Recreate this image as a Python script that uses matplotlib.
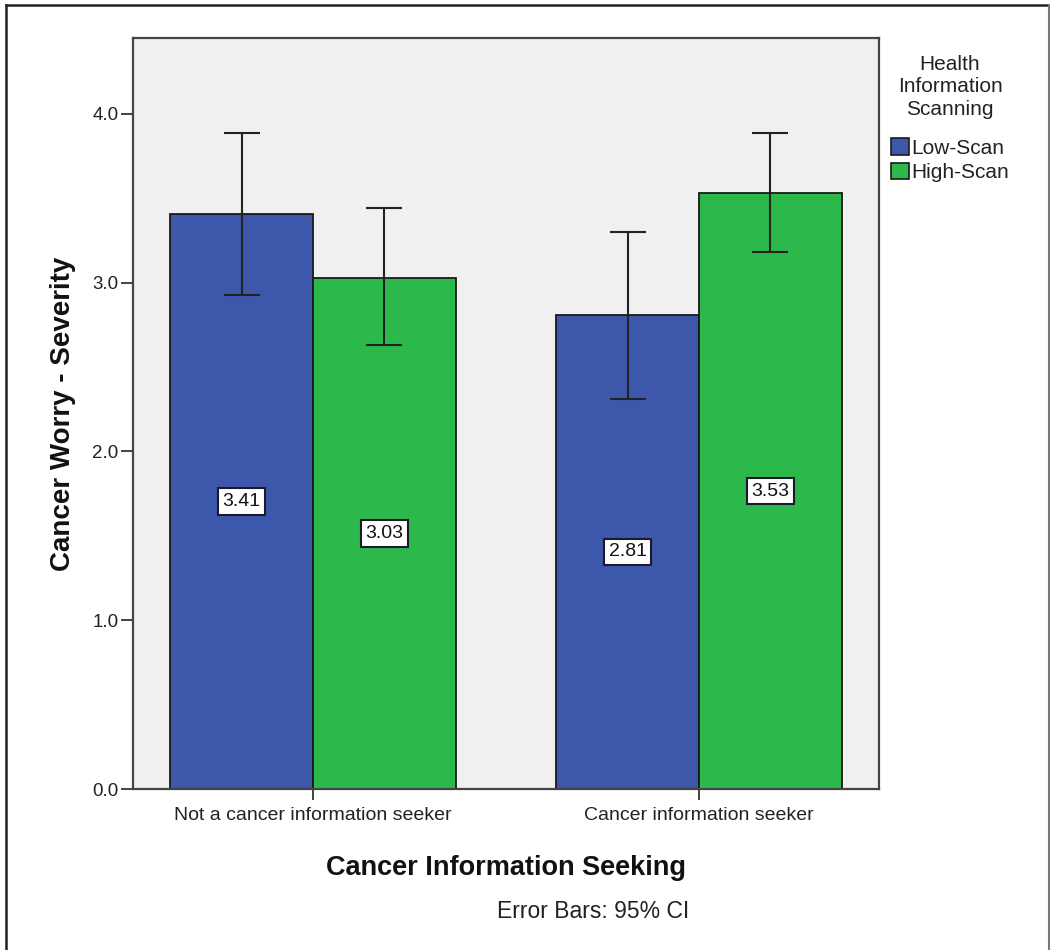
import matplotlib
matplotlib.use("Agg")
import matplotlib.pyplot as plt
from matplotlib.patches import Patch
from matplotlib.lines import Line2D
import numpy as np

plt.rcParams['font.family'] = ['Liberation Sans', 'DejaVu Sans']

categories = ["Not a cancer information seeker", "Cancer information seeker"]
series_names = ["Low-Scan", "High-Scan"]
means = {"Low-Scan": [3.41, 2.81], "High-Scan": [3.03, 3.53]}
ci_low = {"Low-Scan": [2.93, 2.31], "High-Scan": [2.63, 3.18]}
ci_high = {"Low-Scan": [3.89, 3.30], "High-Scan": [3.44, 3.89]}
colors = {"Low-Scan": "#3D57AB", "High-Scan": "#2DB84B"}
yticks = [0.0, 1.0, 2.0, 3.0, 4.0]

W, H = 1050, 950
fig = plt.figure(figsize=(W / 100, H / 100), dpi=100)
ax_l, ax_r, ax_t, ax_b = 133, 879, 38, 789
ax = fig.add_axes([ax_l / W, 1 - ax_b / H, (ax_r - ax_l) / W, (ax_b - ax_t) / H])
ax.set_facecolor("#F0F0F0")

x = np.arange(len(categories))
w = 0.37
for i, s in enumerate(series_names):
    pos = x + (i - 0.5) * w
    vals = np.array(means[s])
    lo = vals - np.array(ci_low[s])
    hi = np.array(ci_high[s]) - vals
    ax.bar(pos, vals, width=w, color=colors[s], edgecolor="#1a1a1a", linewidth=1.3, zorder=2)
    ax.errorbar(pos, vals, yerr=[lo, hi], fmt="none", ecolor="#222222",
                elinewidth=1.5, capsize=13, capthick=1.5, zorder=3)
    for p, v in zip(pos, vals):
        ax.text(p, v / 2, f"{v:.2f}", ha="center", va="center", fontsize=14,
                color="#111111",
                bbox=dict(boxstyle="square,pad=0.25", fc="white", ec="#1a1a2a", lw=1.5),
                zorder=4)

ax.set_xlim(-0.466, 1.466)
ax.set_ylim(0, 4.45)
ax.set_yticks(yticks)
ax.set_yticklabels([f"{t:.1f}" for t in yticks], fontsize=13.5, color="#222222")
ax.set_xticks(x)
ax.set_xticklabels(categories, fontsize=14, color="#222222")
ax.tick_params(axis="y", length=9, width=1.3, color="#333333", pad=1.5)
ax.tick_params(axis="x", length=8, width=1.3, color="#333333", pad=5)
for sp in ax.spines.values():
    sp.set_color("#444444")
    sp.set_linewidth(1.6)

ax.set_ylabel("Cancer Worry - Severity", fontsize=20, fontweight="bold", color="#111111")
ax.yaxis.label.set_va("center")
ax.yaxis.label.set_ha("center")
ax.yaxis.set_label_coords((63 - ax_l) / (ax_r - ax_l), 0.5)

ax.set_xlabel("Cancer Information Seeking", fontsize=19.5, fontweight="bold", color="#111111")
ax.xaxis.label.set_va("center")
ax.xaxis.set_label_coords(0.5, -(868 - ax_b) / (ax_b - ax_t))

fig.text(593 / W, 1 - 912 / H, "Error Bars: 95% CI", ha="center", va="center",
         fontsize=16.5, color="#222222")

# legend title
fig.text(950 / W, 1 - 87 / H, "Health\nInformation\nScanning", ha="center", va="center",
         fontsize=15, linespacing=1.24, color="#222222")

handles = [Patch(facecolor=colors[s], edgecolor="#1a1a1a", lw=1.2) for s in series_names]
leg = fig.legend(handles, series_names, loc="upper left",
                 bbox_to_anchor=(891 / W, 1 - 138 / H), frameon=False,
                 fontsize=15, handlelength=0.85, handleheight=0.85,
                 handletextpad=0.12, labelspacing=0.25, borderpad=0, borderaxespad=0)
for t in leg.get_texts():
    t.set_color("#222222")

# outer frame (left, top, right)
fig.add_artist(Line2D([6 / W, 6 / W], [0, 1 - 5 / H], transform=fig.transFigure,
                      color="#222222", lw=1.8))
fig.add_artist(Line2D([6 / W, 1049 / W], [1 - 5 / H, 1 - 5 / H], transform=fig.transFigure,
                      color="#222222", lw=1.8))
fig.add_artist(Line2D([1049 / W, 1049 / W], [0, 1 - 5 / H], transform=fig.transFigure,
                      color="#777777", lw=1.5))

fig.savefig("out.png", dpi=100, facecolor="white")
